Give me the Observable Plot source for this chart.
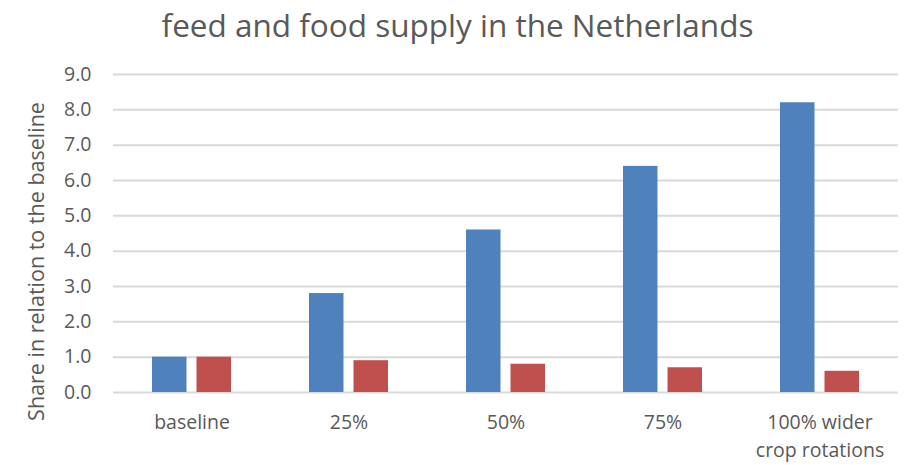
<!DOCTYPE html>
<html>
<head>
<meta charset="utf-8">
<script src="https://cdn.jsdelivr.net/npm/d3@7"></script>
<script src="https://cdn.jsdelivr.net/npm/@observablehq/plot@0.6"></script>
<style>
  body { margin: 0; background: #fff; width: 915px; height: 465px; overflow: hidden; }
  #title { height: 55px; line-height: 50px; text-align: center; font-family: "Open Sans", sans-serif; font-size: 31.5px; color: #595959; }
</style>
</head>
<body>
<div id="title">feed and food supply in the Netherlands</div>
<div id="chart"></div>
<script>
const categories = ["baseline", "25%", "50%", "75%", "100% wider\ncrop rotations"];
const blueValues = [1.0, 2.8, 4.6, 6.4, 8.2];
const redValues = [1.0, 0.9, 0.8, 0.7, 0.6];
const yTicks = [0, 1, 2, 3, 4, 5, 6, 7, 8, 9];
const yLabel = "Share in relation to the baseline";

const blueData = categories.map((c, i) => ({category: c, value: blueValues[i]}));
const redData = categories.map((c, i) => ({category: c, value: redValues[i]}));

const chart = Plot.plot({
  width: 915,
  height: 410,
  marginLeft: 113,
  marginRight: 17,
  marginTop: 19,
  marginBottom: 73,
  style: {fontFamily: "Open Sans, sans-serif", fontSize: "19.5px", color: "#595959", background: "#fff"},
  x: {domain: categories, padding: 0},
  y: {domain: [0, 9]},
  marks: [
    Plot.ruleY(yTicks, {stroke: "#d9d9d9", strokeWidth: 2}),
    Plot.barY(blueData, {x: "category", y: "value", fill: "#4f81bd", insetLeft: 39, insetRight: 83.5}),
    Plot.barY(redData, {x: "category", y: "value", fill: "#c0504d", insetLeft: 83.5, insetRight: 39}),
    Plot.axisX({tickSize: 0, tickPadding: 17, lineHeight: 1.42, label: null, fontSize: 19.5}),
    Plot.axisY({ticks: yTicks, tickFormat: d3.format(".1f"), tickSize: 0, tickPadding: 22,
      label: null, fontSize: 19.5}),
    Plot.text([yLabel], {text: d => d, frameAnchor: "left", textAnchor: "middle", rotate: -90, dx: -76, dy: 28, fontSize: 21.5, fill: "#595959"})
  ]
});
document.getElementById("chart").appendChild(chart);
</script>
</body>
</html>
